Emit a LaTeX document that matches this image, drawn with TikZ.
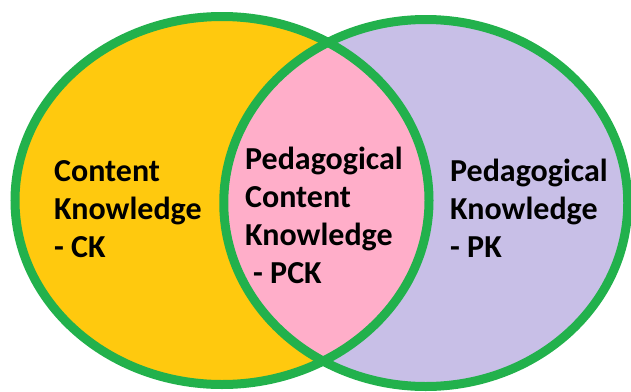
\documentclass[tikz,border=0pt]{standalone}
\usepackage{fontspec}
\setmainfont{Carlito}
\usepackage{tikz}
\usetikzlibrary{positioning}

\definecolor{ringgreen}{HTML}{22B14C}
\definecolor{ckgold}{HTML}{FFC90E}
\definecolor{pkviolet}{HTML}{C8BFE7}
\definecolor{pckrose}{HTML}{FFAEC9}

\begin{document}
\begin{tikzpicture}[x=1pt, y=-1pt,
    vennlabel/.style={anchor=base west, inner sep=0pt, align=left,
        font=\bfseries\fontsize{32}{38}\selectfont}]
    \useasboundingbox (0,0) rectangle (631,391);
    \fill[ckgold] (222,200.5) ellipse [x radius=207, y radius=184]; % CK circle
    \fill[pkviolet] (425.75,203) ellipse [x radius=202, y radius=183.5]; % PK circle
    \begin{scope} % overlap of both
        \clip (222,200.5) ellipse [x radius=207, y radius=184];
        \fill[pckrose] (425.75,203) ellipse [x radius=202, y radius=183.5];
    \end{scope}
    \draw[ringgreen, line width=9pt] (222,200.5) ellipse [x radius=207, y radius=184];
    \draw[ringgreen, line width=9pt] (425.75,203) ellipse [x radius=202, y radius=183.5];
    % base anchor sits on the last line
    \node[vennlabel] (ck) at (54,257) {Content\\Knowledge\\- CK};
    \node[vennlabel] (pck) at (245,283) {Pedagogical\\Content\\Knowledge\\\hspace*{8pt}- PCK};
    \node[vennlabel] (pk) at (450,257) {Pedagogical\\Knowledge\\- PK};
\end{tikzpicture}
\end{document}
